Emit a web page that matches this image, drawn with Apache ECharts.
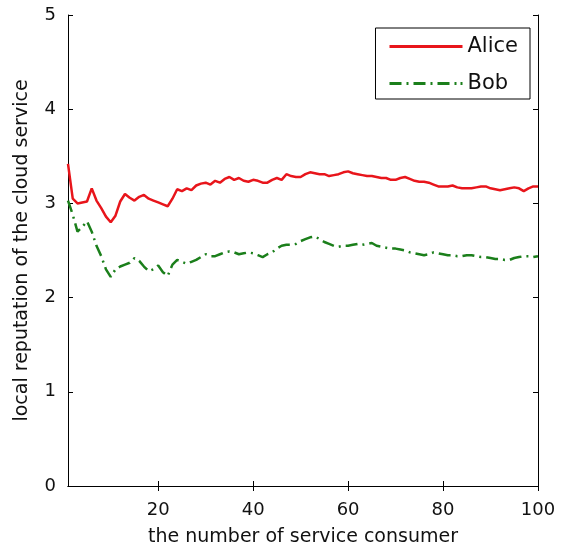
<!DOCTYPE html>
<html>
<head>
<meta charset="utf-8">
<script src="https://cdn.jsdelivr.net/npm/echarts@6/dist/echarts.min.js"></script>
<style>
html,body{margin:0;padding:0;background:#fff;}
#chart{width:566px;height:552px;}
</style>
</head>
<body>
<div id="chart"></div>
<script>
// number of service consumers 1..100
const consumers = [];
for (let i = 1; i <= 100; i++) consumers.push(i);

const aliceValues = [
  3.42,3.05,3.00,3.01,3.02,3.16,3.03,2.95,2.86,2.80,
  2.87,3.02,3.10,3.06,3.03,3.07,3.09,3.05,3.03,3.01,
  2.99,2.97,3.05,3.15,3.13,3.16,3.14,3.19,3.21,3.22,
  3.20,3.24,3.22,3.26,3.28,3.25,3.27,3.24,3.23,3.25,
  3.24,3.22,3.22,3.25,3.27,3.25,3.31,3.29,3.28,3.28,
  3.31,3.33,3.32,3.31,3.31,3.29,3.30,3.31,3.33,3.34,
  3.32,3.31,3.30,3.29,3.29,3.28,3.27,3.27,3.25,3.25,
  3.27,3.28,3.26,3.24,3.23,3.23,3.22,3.20,3.18,3.18,
  3.18,3.19,3.17,3.16,3.16,3.16,3.17,3.18,3.18,3.16,
  3.15,3.14,3.15,3.16,3.17,3.16,3.13,3.16,3.18,3.18
];

const bobValues = [
  3.03,2.88,2.70,2.75,2.81,2.70,2.55,2.44,2.30,2.22,
  2.30,2.33,2.35,2.37,2.42,2.39,2.33,2.28,2.30,2.34,
  2.27,2.23,2.35,2.40,2.38,2.36,2.38,2.40,2.43,2.46,
  2.44,2.44,2.46,2.48,2.49,2.48,2.46,2.47,2.48,2.47,
  2.45,2.43,2.46,2.48,2.52,2.55,2.56,2.56,2.57,2.60,
  2.62,2.64,2.65,2.62,2.59,2.57,2.55,2.54,2.55,2.55,
  2.56,2.57,2.56,2.57,2.58,2.55,2.54,2.53,2.52,2.52,
  2.51,2.50,2.48,2.47,2.46,2.45,2.46,2.48,2.47,2.46,
  2.45,2.45,2.44,2.44,2.45,2.45,2.44,2.43,2.43,2.42,
  2.41,2.41,2.40,2.40,2.42,2.43,2.44,2.44,2.43,2.44
];

const xTicks = [20, 40, 60, 80, 100];
const seriesNames = ['Alice', 'Bob'];

const FONT = 'DejaVu Sans';
const TXT = '#111';
const RED = '#e8151b';
const GREEN = '#1b7f1b';

// legend icons: solid line and dash-dot line (73 x 3 units)
const solidIcon = 'path://M0,0H73V3H0Z';
const dashDotIcon = 'path://M0,0h12v3h-12z M17,0h2v3h-2z M24,0h12v3h-12z M41,0h2v3h-2z M48,0h12v3h-12z M65,0h2v3h-2z M71,0h2v3h-2z';

const chart = echarts.init(document.getElementById('chart'), null, {renderer: 'canvas'});

const axisLineStyle = {show: true, lineStyle: {color: '#000', width: 1}};

chart.setOption({
  animation: false,
  backgroundColor: '#fff',
  grid: {left: 68, right: 28, top: 15, bottom: 64},
  legend: {
    orient: 'vertical',
    right: 36,
    top: 28,
    data: [
      {name: seriesNames[0], icon: solidIcon, itemStyle: {color: RED}},
      {name: seriesNames[1], icon: dashDotIcon, itemStyle: {color: GREEN}}
    ],
    itemWidth: 73,
    itemHeight: 3,
    itemGap: 16,
    padding: [8, 12, 5, 14],
    borderColor: '#000',
    borderWidth: 1,
    backgroundColor: '#fff',
    textStyle: {fontFamily: FONT, fontSize: 21, color: TXT}
  },
  xAxis: [
    {
      type: 'value', min: 1, max: 100, position: 'bottom',
      axisLine: axisLineStyle,
      axisTick: {show: true, inside: true, length: 5, customValues: xTicks, lineStyle: {color: '#000'}},
      axisLabel: {customValues: xTicks, fontFamily: FONT, fontSize: 18, color: TXT, margin: 15},
      splitLine: {show: false},
      name: 'the number of service consumer',
      nameLocation: 'middle',
      nameGap: 42,
      nameTextStyle: {fontFamily: FONT, fontSize: 19, color: TXT}
    },
    {
      type: 'value', min: 1, max: 100, position: 'top',
      axisLine: axisLineStyle,
      axisTick: {show: true, inside: true, length: 5, customValues: xTicks, lineStyle: {color: '#000'}},
      axisLabel: {show: false},
      splitLine: {show: false}
    }
  ],
  yAxis: [
    {
      type: 'value', min: 0, max: 5, interval: 1, position: 'left',
      axisLine: axisLineStyle,
      axisTick: {show: true, inside: true, length: 5, lineStyle: {color: '#000'}},
      axisLabel: {fontFamily: FONT, fontSize: 18, color: TXT, margin: 12},
      splitLine: {show: false},
      name: 'local reputation of the cloud service',
      nameLocation: 'middle',
      nameGap: 36,
      nameTextStyle: {fontFamily: FONT, fontSize: 19, color: TXT}
    },
    {
      type: 'value', min: 0, max: 5, interval: 1, position: 'right',
      axisLine: axisLineStyle,
      axisTick: {show: true, inside: true, length: 5, lineStyle: {color: '#000'}},
      axisLabel: {show: false},
      splitLine: {show: false}
    }
  ],
  series: [
    {
      name: seriesNames[0],
      type: 'line',
      xAxisIndex: 0, yAxisIndex: 0,
      data: consumers.map((c, i) => [c, aliceValues[i]]),
      showSymbol: false,
      symbol: 'none',
      color: RED,
      lineStyle: {color: RED, width: 2.5}
    },
    {
      name: seriesNames[1],
      type: 'line',
      xAxisIndex: 0, yAxisIndex: 0,
      data: consumers.map((c, i) => [c, bobValues[i]]),
      showSymbol: false,
      symbol: 'none',
      color: GREEN,
      lineStyle: {color: GREEN, width: 2.5, type: [12, 5, 2, 5]}
    }
  ]
});
</script>
</body>
</html>
